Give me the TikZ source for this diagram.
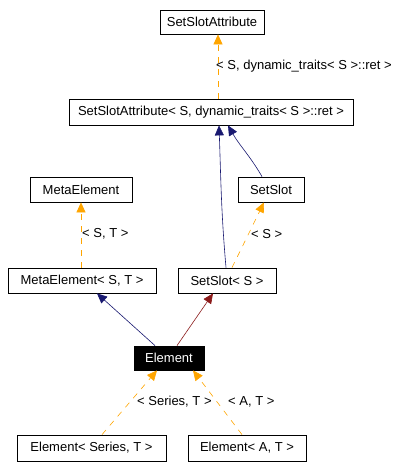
\documentclass[tikz,border=0pt]{standalone}
\usepackage{fontspec}
\setmainfont{Liberation Sans}
\usetikzlibrary{arrows.meta}
\definecolor{navy}{RGB}{25,25,112}
\definecolor{orng}{RGB}{255,165,0}
\definecolor{dred}{RGB}{139,26,26}
\begin{document}
\begin{tikzpicture}[x=1pt,y=-1pt,
  font=\fontsize{13}{15}\selectfont,
  box/.style={draw=black,line width=0.8pt,fill=white,inner sep=0pt,minimum width=#1,minimum height=25pt},
  inh/.style={draw=navy,line width=0.6pt,-{Triangle[length=10pt,width=9pt]}},
  priv/.style={draw=dred,line width=0.6pt,-{Triangle[length=10pt,width=9pt]}},
  tmpl/.style={draw=orng,line width=0.6pt,dash pattern=on 6pt off 6pt,-{Triangle[length=10pt,width=9pt,fill=orng]}},
  lbl/.style={anchor=west,inner sep=0pt}]
\useasboundingbox (0,0) rectangle (406,468);
\node[box=104pt,minimum height=24pt] (ssa) at (212,22) {SetSlotAttribute};
\node[box=284pt,minimum height=26pt] (ssa2) at (211,112) {SetSlotAttribute< S, dynamic\_traits< S >::ret >};
\node[box=102pt] (me) at (81,189.5) {MetaElement};
\node[box=148pt] (me2) at (82,280.5) {MetaElement< S, T >};
\node[box=66pt] (ss) at (271,189.5) {SetSlot};
\node[box=98pt] (ss2) at (227,280.5) {SetSlot< S >};
\node[box=70pt,minimum height=24pt,fill=black,text=white] (el) at (169,358) {Element};
\node[box=149pt,minimum height=26pt] (es) at (91.5,448) {Element< Series, T >};
\node[box=118pt,minimum height=26pt] (ea) at (247,448) {Element< A, T >};

\draw[tmpl] ([xshift=7pt]ssa2.north) -- ([xshift=6pt]ssa.south);
\node[lbl] (l1) at (216,66) {< S, dynamic\_traits< S >::ret >};
\draw[inh] ([xshift=-9pt]ss.north) to[out=120,in=-60] ([xshift=17pt]ssa2.south);
\draw[inh] ([xshift=-1pt]ss2.north) to[out=95,in=-88] ([xshift=8pt]ssa2.south);
\draw[tmpl] ([xshift=5pt]ss2.north) -- ([xshift=-7pt]ss.south);
\node[lbl] (l2) at (251,234) {< S >};
\draw[tmpl] ([xshift=-1pt]me2.north) -- (me.south);
\node[lbl] (l3) at (82,234) {< S, T >};
\draw[inh] ([xshift=-14pt]el.north) -- ([xshift=15pt]me2.south);
\draw[priv] ([xshift=8pt]el.north) -- ([xshift=-14pt]ss2.south);
\draw[tmpl] ([xshift=10.5pt]es.north) -- ([xshift=-12pt]el.south);
\node[lbl] (l4) at (137,402) {< Series, T >};
\draw[tmpl] ([xshift=-5pt]ea.north) -- ([xshift=24pt]el.south);
\node[lbl] (l5) at (228,402) {< A, T >};
\end{tikzpicture}
\end{document}
